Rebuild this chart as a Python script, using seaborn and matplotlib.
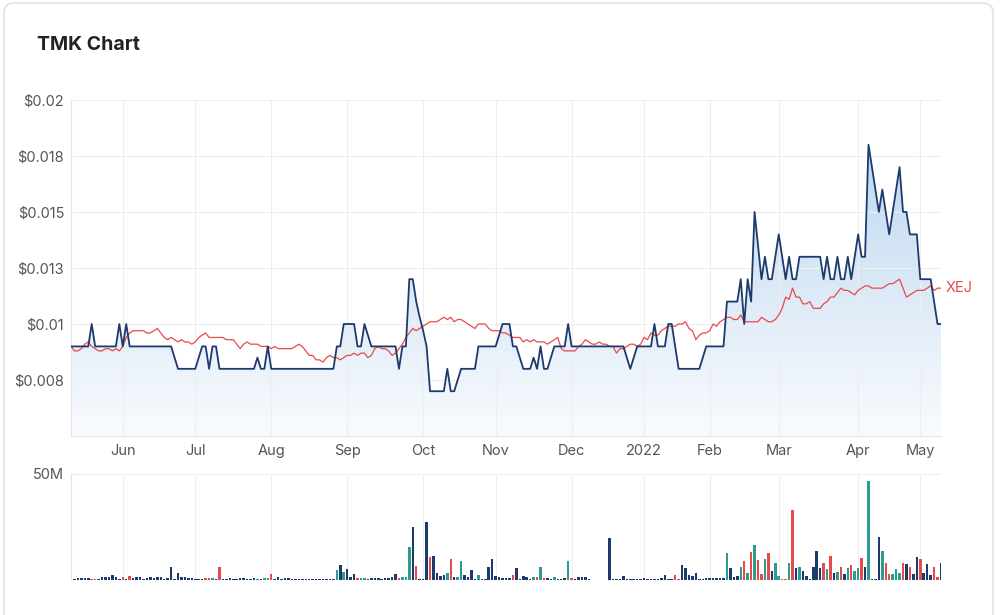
import numpy as np
import pandas as pd
import matplotlib
matplotlib.use('Agg')
import matplotlib.pyplot as plt
from matplotlib.colors import LinearSegmentedColormap
from matplotlib.patches import FancyBboxPatch
import seaborn as sns


# ASX trading days, 11 May 2021 - 10 May 2022
HOLIDAYS = ['2021-06-14', '2021-12-27', '2021-12-28', '2022-01-03',
            '2022-01-26', '2022-04-15', '2022-04-18', '2022-04-25']
dates = pd.bdate_range('2021-05-11', '2022-05-10')
dates = dates[~dates.isin(pd.to_datetime(HOLIDAYS))]

# TMK close price ($), one row = 10 trading days
PRICE = [
    .009, .009, .009, .009, .009, .009, .010, .009, .009, .009,
    .009, .009, .009, .009, .010, .009, .010, .009, .009, .009,
    .009, .009, .009, .009, .009, .009, .009, .009, .009, .009,
    .0085, .008, .008, .008, .008, .008, .008, .0085, .009, .009,
    .008, .009, .009, .008, .008, .008, .008, .008, .008, .008,
    .008, .008, .008, .008, .0085, .008, .008, .009, .008, .008,
    .008, .008, .008, .008, .008, .008, .008, .008, .008, .008,
    .008, .008, .008, .008, .008, .008, .008, .009, .009, .010,
    .010, .010, .010, .009, .009, .010, .0095, .009, .009, .009,
    .009, .009, .009, .009, .009, .008, .009, .009, .012, .012,
    .011, .0103, .0097, .009, .007, .007, .007, .007, .007, .008,
    .007, .007, .0075, .008, .008, .008, .008, .008, .009, .009,
    .009, .009, .009, .009, .0095, .010, .010, .010, .009, .009,
    .0085, .008, .008, .008, .0085, .008, .009, .008, .008, .0085,
    .009, .009, .009, .009, .010, .009, .009, .009, .009, .009,
    .009, .009, .009, .009, .009, .009, .009, .009, .009, .009,
    .009, .0085, .008, .0085, .009, .009, .009, .009, .009, .010,
    .009, .009, .009, .010, .010, .009, .008, .008, .008, .008,
    .008, .008, .008, .0085, .009, .009, .009, .009, .009, .009,
    .011, .011, .011, .011, .012, .010, .012, .011, .015, .0135,
    .012, .013, .012, .012, .013, .014, .013, .012, .013, .012,
    .012, .013, .013, .013, .013, .013, .013, .013, .012, .013,
    .012, .012, .013, .012, .012, .013, .012, .013, .014, .013,
    .013, .018, .017, .016, .015, .016, .015, .014, .015, .016,
    .017, .015, .015, .014, .014, .014, .012, .012, .012, .012,
    .011, .010, .010,
]

# XEJ index, rebased onto the TMK price scale
XEJ = [
    .0090, .0088, .0088, .0089, .0091, .0092, .0090, .0089, .0088, .0088,
    .0089, .0089, .0088, .0089, .0088, .0090, .0094, .0096, .0097, .0097,
    .0097, .0097, .0096, .0096, .0097, .0098, .0096, .0094, .0093, .0094,
    .0093, .0092, .0093, .0092, .0092, .0091, .0092, .0094, .0095, .0096,
    .0094, .0094, .0094, .0094, .0094, .0093, .0093, .0093, .0091, .0089,
    .0091, .0092, .0091, .0091, .0091, .0090, .0090, .0090, .0089, .0090,
    .0089, .0089, .0089, .0089, .0089, .0090, .0091, .0090, .0088, .0086,
    .0086, .0084, .0084, .0083, .0085, .0086, .0085, .0085, .0084, .0085,
    .0086, .0086, .0087, .0086, .0087, .0087, .0085, .0086, .0089, .0090,
    .0089, .0089, .0088, .0086, .0087, .0089, .0091, .0094, .0096, .0098,
    .0097, .0098, .0099, .0100, .0101, .0101, .0101, .0102, .0103, .0102,
    .0103, .0101, .0102, .0102, .0101, .0100, .0099, .0098, .0100, .0100,
    .0100, .0098, .0097, .0097, .0097, .0096, .0096, .0095, .0094, .0094,
    .0094, .0092, .0093, .0092, .0093, .0092, .0092, .0092, .0091, .0092,
    .0093, .0094, .0089, .0088, .0088, .0088, .0088, .0090, .0091, .0093,
    .0092, .0091, .0091, .0092, .0091, .0091, .0090, .0090, .0087, .0089,
    .0089, .0090, .0091, .0091, .0090, .0091, .0094, .0093, .0096, .0095,
    .0095, .0097, .0098, .0099, .0099, .0099, .0100, .0100, .0101, .0098,
    .0097, .0093, .0095, .0096, .0096, .0097, .0100, .0099, .0101, .0102,
    .0103, .0103, .0102, .0102, .0104, .0101, .0101, .0101, .0101, .0101,
    .0103, .0102, .0101, .0101, .0102, .0104, .0107, .0112, .0111, .0116,
    .0112, .0112, .0109, .0109, .0110, .0107, .0107, .0107, .0109, .0110,
    .0112, .0112, .0114, .0116, .0115, .0115, .0114, .0113, .0115, .0116,
    .0117, .0117, .0116, .0116, .0116, .0116, .0117, .0118, .0118, .0119,
    .0120, .0116, .0112, .0113, .0114, .0115, .0115, .0115, .0116, .0117,
    .0115, .0116, .0116,
]

# daily volume (millions of shares)
VOLUME = [
    1.3, 0.5, 1.0, 1.0, 0.8, 0.8, 0.3, 0.3, 0.6, 1.2,
    1.2, 1.5, 2.4, 1.5, 0.6, 1.3, 0.6, 1.9, 1.0, 1.2,
    1.3, 0.5, 1.0, 1.3, 1.0, 1.3, 1.2, 0.5, 0.9, 6.0,
    0.5, 3.5, 1.3, 1.2, 1.0, 0.8, 0.5, 0.6, 0.6, 1.0,
    1.0, 0.8, 0.3, 6.0, 0.5, 0.5, 0.8, 0.5, 0.6, 0.8,
    0.8, 0.5, 0.6, 0.8, 0.3, 0.5, 0.8, 0.8, 2.8, 0.5,
    1.5, 0.6, 0.8, 1.0, 0.5, 0.6, 0.5, 0.5, 0.3, 0.6,
    0.5, 0.3, 0.3, 0.3, 0.3, 0.3, 0.3, 4.7, 6.9, 3.8,
    5.0, 1.5, 2.8, 0.8, 1.0, 1.0, 0.3, 1.0, 1.0, 1.0,
    0.5, 1.0, 1.0, 1.5, 2.8, 0.8, 1.5, 1.3, 15.7, 25.0,
    6.8, 0.3, 0.3, 27.2, 10.7, 11.3, 3.1, 2.0, 2.3, 3.1,
    9.7, 1.2, 1.5, 8.8, 2.3, 1.5, 4.7, 0.3, 2.2, 0.3,
    0.3, 6.3, 9.7, 1.9, 1.3, 1.1, 1.0, 1.0, 2.2, 5.5,
    0.3, 2.0, 1.2, 0.3, 1.6, 1.6, 6.0, 0.8, 1.0, 0.3,
    1.5, 0.3, 0.3, 0.8, 9.0, 1.0, 0.3, 1.3, 1.5, 1.2,
    0.3, 0.2, 0.2, 0.2, 0.2, 0.2, 19.7, 0.7, 0.7, 0.3,
    1.8, 0.3, 0.3, 0.3, 0.3, 0.3, 0.8, 0.3, 0.3, 0.3,
    0.3, 0.8, 2.2, 0.3, 0.5, 2.4, 0.5, 6.9, 5.5, 2.4,
    1.9, 3.1, 0.3, 0.3, 1.0, 1.0, 1.0, 1.0, 0.8, 0.8,
    12.9, 5.5, 1.4, 1.8, 6.3, 9.0, 3.5, 13.4, 16.4, 9.4,
    2.8, 9.9, 12.9, 4.4, 7.9, 1.9, 0.6, 0.3, 7.9, 33.0,
    5.5, 6.3, 4.4, 1.9, 0.3, 6.3, 13.8, 5.5, 8.2, 5.3,
    11.3, 3.5, 3.8, 6.3, 2.8, 5.5, 6.9, 4.4, 5.5, 10.5,
    6.0, 46.7, 0.3, 0.3, 20.1, 13.7, 7.9, 2.8, 2.8, 5.3,
    3.5, 7.9, 7.4, 6.0, 2.8, 10.7, 9.9, 3.1, 7.4, 2.4,
    6.3, 1.3, 7.9,
]

# bar colour per day: n = no change, t = up, r = down
VOLUME_DIR = ''.join([
    'nnnnnnrrnn', 'nnnnnrnrnn', 'nnnnnnnnnn', 'nnnnnnnnnr',
    'rtnrnnnnnn', 'nnnntnttrn', 'nnnnnnnnnn', 'nnnnnnntnt',
    'nnnrttnnnn', 'nnnnnrtttn', 'rnnnrnnnnt', 'rnttnnnntn',
    'nnnnnnnnrn', 'nnnntrtrnn', 'tnnntrnnnn', 'nnnnnnnnnn',
    'nnnnnnnnnn', 'nnnnnrrnnn', 'nnnnnnnnnn', 'tnnntrtrtr',
    'rtrnttrrtr', 'ntnnnnnnrt', 'rntrntrttr', 'ntnnntrrtt',
    'trnrnnrnnn', 'rrn',
])

YTICKS = [0.0075, 0.01, 0.0125, 0.015, 0.0175, 0.02]
YTICK_LABELS = ['$0.008', '$0.01', '$0.013', '$0.015', '$0.018', '$0.02']

NAVY = '#1d3a6c'
RED = '#e8494b'
TEAL = '#2a9d8f'
GREY_TEXT = '#555555'
GRID = '#eeeeee'

sns.set_style('white')
plt.rcParams['font.family'] = ['Inter', 'DejaVu Sans']

x = np.arange(len(dates))
price = np.array(PRICE)
xej = np.array(XEJ)
volume = np.array(VOLUME) * 1e6
bar_colours = [{'n': NAVY, 't': TEAL, 'r': RED}[c] for c in VOLUME_DIR]

# first trading day of each month -> tick
month_start = np.r_[True, dates.month[1:] != dates.month[:-1]]
tick_pos = x[month_start][1:]
tick_lab = [d.strftime('%Y') if d.month == 1 else d.strftime('%b') for d in dates[month_start][1:]]

fig = plt.figure(figsize=(10, 6.15), dpi=100)
fig.patch.set_facecolor('white')

# card frame (display coords, runs off the bottom edge)
card = FancyBboxPatch((4, -40), 989, 652, boxstyle='round,pad=0,rounding_size=10',
                      transform=None, facecolor='white', edgecolor='#e2e2e2',
                      linewidth=1.2, zorder=-10)
fig.patches.append(card)
fig.text(0.037, 1 - 45 / 615, 'TMK Chart', fontsize=14, fontweight='bold', color='#222222', va='center')

# ------------------------------------------------------------
# PRICE PANEL
# ------------------------------------------------------------
ax = fig.add_axes([0.071, 0.291, 0.870, 0.5465])
ax.set_facecolor('none')

fill = ax.fill_between(x, price, 0.005, facecolor='none', edgecolor='none')
fade = LinearSegmentedColormap.from_list('fade', ['#f9fbfe', '#bad5ef'])
grad = ax.imshow(np.linspace(0, 1, 256).reshape(-1, 1), extent=[0, x[-1], 0.005, 0.019],
                 origin='lower', cmap=fade, aspect='auto', zorder=0)
grad.set_clip_path(fill.get_paths()[0], transform=ax.transData)

sns.lineplot(x=x, y=xej, ax=ax, color=RED, linewidth=0.9, zorder=3)
sns.lineplot(x=x, y=price, ax=ax, color=NAVY, linewidth=1.3, zorder=4)
ax.text(x[-1] + 1.2, xej[-1], 'XEJ', color=RED, fontsize=10.5, va='center', ha='left')

ax.set_xlim(0, x[-1])
ax.set_ylim(0.005, 0.02)
ax.set_yticks(YTICKS)
ax.set_yticklabels(YTICK_LABELS)
ax.set_xticks(tick_pos)
ax.set_xticklabels(tick_lab)
ax.set_axisbelow('line')
ax.grid(True, color=GRID, linewidth=0.8)
ax.tick_params(length=0, labelsize=10.5, labelcolor=GREY_TEXT)
ax.tick_params(axis='y', pad=5)
ax.tick_params(axis='x', pad=6)
for side in ['top', 'right']:
    ax.spines[side].set_visible(False)
for side in ['left', 'bottom']:
    ax.spines[side].set_color('#e4e4e4')
ax.set_xlabel('')
ax.set_ylabel('')

# ------------------------------------------------------------
# VOLUME PANEL
# ------------------------------------------------------------
axv = fig.add_axes([0.071, 0.0569, 0.870, 0.1724])
axv.set_facecolor('none')
axv.bar(x, volume, width=0.72, color=bar_colours, linewidth=0)
axv.set_xlim(0, x[-1])
axv.set_ylim(0, 50e6)
axv.set_yticks([50e6])
axv.set_yticklabels(['50M'])
axv.set_xticks(tick_pos)
axv.set_xticklabels([])
axv.set_axisbelow(True)
axv.grid(True, color=GRID, linewidth=0.8)
axv.tick_params(length=0, labelsize=10.5, labelcolor=GREY_TEXT)
axv.tick_params(axis='y', pad=5)
for side in ['top', 'right', 'bottom']:
    axv.spines[side].set_visible(False)
axv.spines['left'].set_color('#e4e4e4')

fig.savefig('out.png', dpi=100)
